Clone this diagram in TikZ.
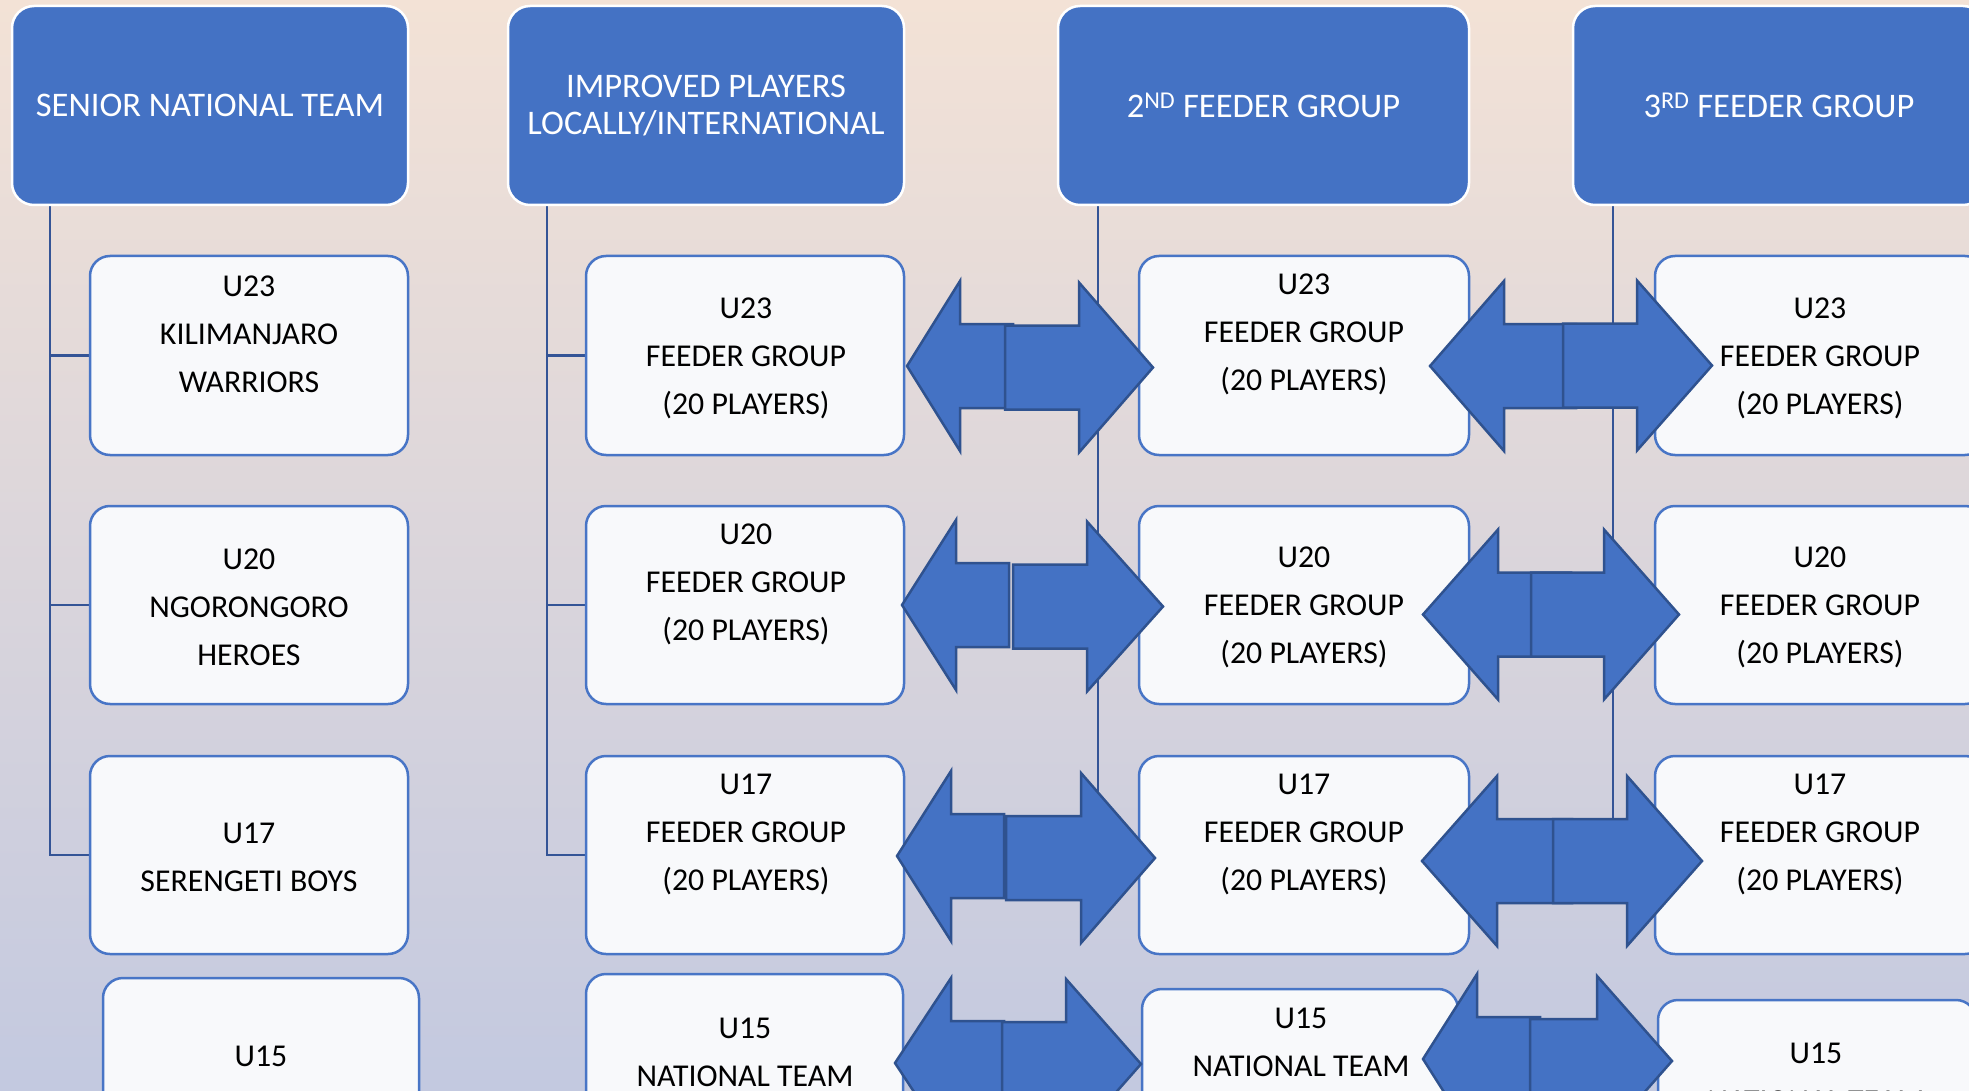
\documentclass[tikz,border=0pt]{standalone}
\usepackage{fontspec}
\setmainfont{Carlito}
\definecolor{bgtop}{RGB}{243,226,214}
\definecolor{bgbot}{RGB}{195,201,224}
\definecolor{hdrblue}{RGB}{68,114,196}
\definecolor{boxline}{RGB}{72,117,198}
\definecolor{boxfill}{RGB}{248,249,251}
\definecolor{linecol}{RGB}{52,84,150}
\definecolor{arrowline}{RGB}{47,82,143}
\pgfdeclarelayer{bg}
\pgfdeclarelayer{lines}
\pgfsetlayers{bg,lines,main}
% half of a double block arrow pointing left: tip x, head back x, tail x, centre y
\newcommand\ArrLeftPiece[4]{%
  \filldraw[apiece] (#1,#4) -- (#2,#4-85) -- (#2,#4-42) -- (#3,#4-42)
    -- (#3,#4+42) -- (#2,#4+42) -- (#2,#4+85) -- cycle;}
% half pointing right: tail x, head back x, tip x, centre y
\newcommand\ArrRightPiece[4]{%
  \filldraw[apiece] (#1,#4-42) -- (#2,#4-42) -- (#2,#4-85) -- (#3,#4)
    -- (#2,#4+85) -- (#2,#4+42) -- (#1,#4+42) -- cycle;}
\begin{document}
\begin{tikzpicture}[x=1pt,y=-1pt,
  hdr/.style={draw=white, line width=2.5pt, fill=hdrblue, rounded corners=22pt,
    text=white, align=center, font=\fontsize{34.5}{37.7}\selectfont, inner sep=0pt},
  cbox/.style={draw=boxline, line width=2.5pt, fill=boxfill, rounded corners=20pt, inner sep=0pt},
  ctext/.style={align=center, font=\fontsize{31.8}{48}\selectfont, inner sep=0pt, text=black},
  tline/.style={draw=linecol, line width=2.5pt},
  apiece/.style={fill=hdrblue, draw=arrowline, line width=2.5pt, line join=miter}
]
\useasboundingbox (0,0) rectangle (1969,1091);
\clip (0,0) rectangle (1969,1091);
\begin{pgfonlayer}{bg}
  \shade[top color=bgtop, bottom color=bgbot] (0,0) rectangle (1969,1091);
\end{pgfonlayer}

% header boxes
\node[hdr, minimum width=396pt, minimum height=199pt] (h1) at (210,105.5) {SENIOR NATIONAL TEAM};
\node[hdr, minimum width=396pt, minimum height=199pt] (h2) at (706,105.5) {IMPROVED PLAYERS\\LOCALLY/INTERNATIONAL};
\node[hdr, minimum width=411pt, minimum height=199pt] (h3) at (1263.5,105.5) {2\textsuperscript{ND} FEEDER GROUP};
\node[hdr, minimum width=412pt, minimum height=199pt] (h4) at (1779,105.5) {3\textsuperscript{RD} FEEDER GROUP};

% child boxes
\node[cbox, minimum width=318pt, minimum height=199pt] (a1) at (249,355.5) {};
\node[cbox, minimum width=318pt, minimum height=198pt] (a2) at (249,605) {};
\node[cbox, minimum width=318pt, minimum height=198pt] (a3) at (249,855) {};
\node[cbox, minimum width=316pt, minimum height=210pt] (a4) at (261,1083) {};

\node[cbox, minimum width=318pt, minimum height=199pt] (b1) at (745,355.5) {};
\node[cbox, minimum width=318pt, minimum height=198pt] (b2) at (745,605) {};
\node[cbox, minimum width=318pt, minimum height=198pt] (b3) at (745,855) {};
\node[cbox, minimum width=317pt, minimum height=210pt] (b4) at (744.5,1079) {};

\node[cbox, minimum width=330pt, minimum height=199pt] (c1) at (1304,355.5) {};
\node[cbox, minimum width=330pt, minimum height=198pt] (c2) at (1304,605) {};
\node[cbox, minimum width=330pt, minimum height=198pt] (c3) at (1304,855) {};
\node[cbox, minimum width=316pt, minimum height=210pt] (c4) at (1300,1094) {};

\node[cbox, minimum width=330pt, minimum height=199pt] (d1) at (1820,355.5) {};
\node[cbox, minimum width=330pt, minimum height=198pt] (d2) at (1820,605) {};
\node[cbox, minimum width=330pt, minimum height=198pt] (d3) at (1820,855) {};
\node[cbox, minimum width=318pt, minimum height=210pt] (d4) at (1817,1105) {};

% tree connectors, kept under the boxes
\coordinate (k1) at (50,206);
\coordinate (k2) at (547,206);
\coordinate (k3) at (1098,206);
\coordinate (k4) at (1613,206);
\begin{pgfonlayer}{lines}
\foreach \col/\k in {a/k1,b/k2,c/k3,d/k4}{
  \draw[tline] (\k) |- (\col3.west);
  \draw[tline] (\k |- \col1.west) -- (\col1.west);
  \draw[tline] (\k |- \col2.west) -- (\col2.west);
}
\end{pgfonlayer}

% box labels
\node[ctext] (ta1) at (249,334) {U23\\KILIMANJARO\\WARRIORS};
\node[ctext] (ta2) at (249,607.5) {U20\\NGORONGORO\\HEROES};
\node[ctext] (ta3) at (249,857) {U17\\SERENGETI BOYS};
\node[ctext] (ta4) at (261,1056) {U15};

\node[ctext] (tb1) at (746,358) {U23\\FEEDER GROUP\\(20 PLAYERS)};
\node[ctext] (tb2) at (746,584) {U20\\FEEDER GROUP\\(20 PLAYERS)};
\node[ctext] (tb3) at (746,834) {U17\\FEEDER GROUP\\(20 PLAYERS)};
\node[ctext] (tb4) at (745,1052) {U15\\NATIONAL TEAM};

\node[ctext] (tc1) at (1304,334) {U23\\FEEDER GROUP\\(20 PLAYERS)};
\node[ctext] (tc2) at (1304,607.5) {U20\\FEEDER GROUP\\(20 PLAYERS)};
\node[ctext] (tc3) at (1304,834) {U17\\FEEDER GROUP\\(20 PLAYERS)};
\node[ctext] (tc4) at (1301,1042) {U15\\NATIONAL TEAM};

\node[ctext] (td1) at (1820,358) {U23\\FEEDER GROUP\\(20 PLAYERS)};
\node[ctext] (td2) at (1820,607.5) {U20\\FEEDER GROUP\\(20 PLAYERS)};
\node[ctext] (td3) at (1820,834) {U17\\FEEDER GROUP\\(20 PLAYERS)};
\node[ctext] (td4) at (1816,1077) {U15\\NATIONAL TEAM};

% double block arrows, each drawn as two halves
\ArrLeftPiece{907}{960}{1013}{366}
\ArrRightPiece{1005}{1079}{1153}{367.5}
\ArrLeftPiece{902}{956}{1009}{605}
\ArrRightPiece{1013}{1087}{1163}{606.5}
\ArrLeftPiece{897}{951}{1004}{856}
\ArrRightPiece{1006}{1081}{1155}{858}
\ArrLeftPiece{895}{951}{1004}{1063}
\ArrRightPiece{1002}{1066}{1141}{1064}

\ArrLeftPiece{1430}{1504}{1576}{366}
\ArrRightPiece{1563}{1637}{1712}{365.5}
\ArrLeftPiece{1423}{1498}{1571}{614.5}
\ArrRightPiece{1531}{1604}{1679}{614.5}
\ArrLeftPiece{1422}{1497}{1572}{861}
\ArrRightPiece{1553}{1627}{1702}{861}
\ArrLeftPiece{1423}{1477}{1540}{1059}
\ArrRightPiece{1530}{1597}{1672}{1061}
\end{tikzpicture}
\end{document}
